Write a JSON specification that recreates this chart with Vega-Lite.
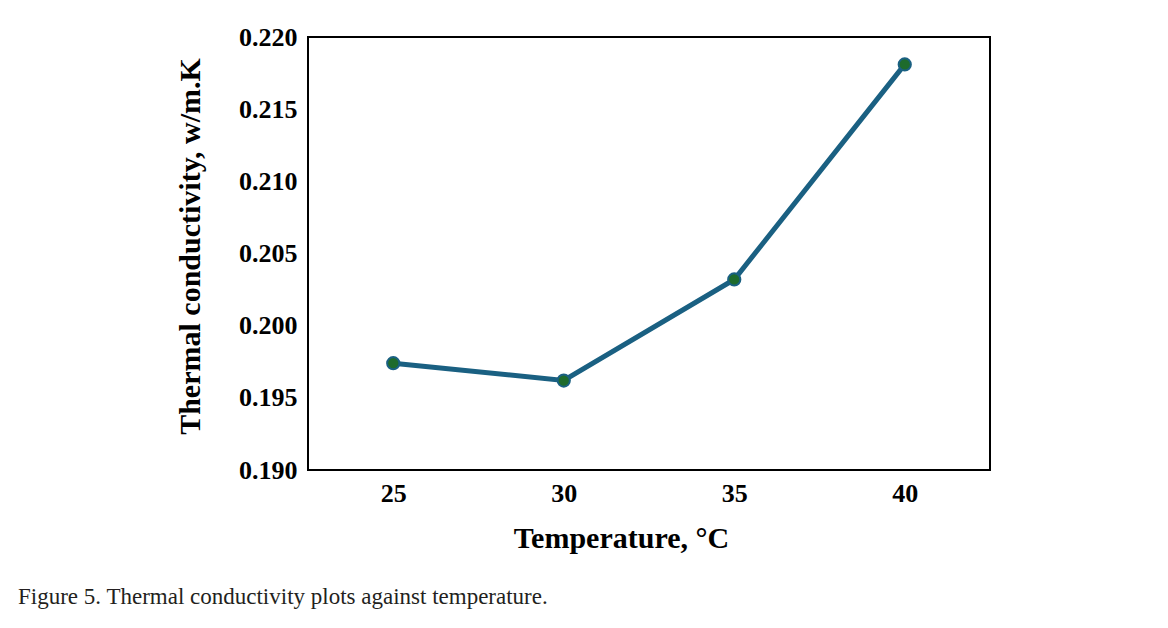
{
  "$schema": "https://vega.github.io/schema/vega-lite/v6.json",
  "width": 682,
  "height": 433,
  "autosize": {"type": "none"},
  "padding": {"left": 308, "top": 37, "right": 178, "bottom": 158},
  "background": "white",
  "data": {"values": [
    {"temperature": "25", "conductivity": 0.1974},
    {"temperature": "30", "conductivity": 0.1962},
    {"temperature": "35", "conductivity": 0.2032},
    {"temperature": "40", "conductivity": 0.2181}
  ]},
  "title": {
    "text": "Figure 5. Thermal conductivity plots against temperature.",
    "orient": "bottom",
    "anchor": "start",
    "frame": "group",
    "dx": -290,
    "offset": 33,
    "font": "Liberation Serif",
    "fontSize": 23,
    "fontWeight": "normal",
    "color": "#231f20"
  },
  "encoding": {
    "x": {
      "field": "temperature",
      "type": "ordinal",
      "scale": {"type": "point", "padding": 0.5},
      "axis": {
        "title": "Temperature, °C",
        "labelAngle": 0,
        "ticks": false,
        "domain": false,
        "grid": false,
        "labelPadding": 10,
        "labelFont": "Liberation Serif",
        "labelFontWeight": "bold",
        "labelFontSize": 26,
        "labelColor": "black",
        "titleFont": "Liberation Serif",
        "titleFontWeight": "bold",
        "titleFontSize": 30,
        "titleColor": "black",
        "titleX": 313,
        "titleY": 68,
        "titleBaseline": "middle"
      }
    },
    "y": {
      "field": "conductivity",
      "type": "quantitative",
      "scale": {"domain": [0.19, 0.22], "zero": false, "nice": false},
      "axis": {
        "title": "Thermal conductivity, w/m.K",
        "values": [0.19, 0.195, 0.2, 0.205, 0.21, 0.215, 0.22],
        "format": ".3f",
        "ticks": false,
        "domain": false,
        "grid": false,
        "labelPadding": 11,
        "labelFont": "Liberation Serif",
        "labelFontWeight": "bold",
        "labelFontSize": 26,
        "labelColor": "black",
        "titleFont": "Liberation Serif",
        "titleFontWeight": "bold",
        "titleFontSize": 30,
        "titleColor": "black",
        "titleX": -118,
        "titleY": 209,
        "titleBaseline": "middle"
      }
    }
  },
  "layer": [
    {"mark": {"type": "line", "color": "#1a6082", "strokeWidth": 5}},
    {"mark": {"type": "point", "filled": true, "fill": "#1e6b2c", "stroke": "#1a6082", "strokeWidth": 2, "size": 150, "opacity": 1}}
  ],
  "config": {
    "view": {"stroke": "black", "strokeWidth": 2}
  }
}
